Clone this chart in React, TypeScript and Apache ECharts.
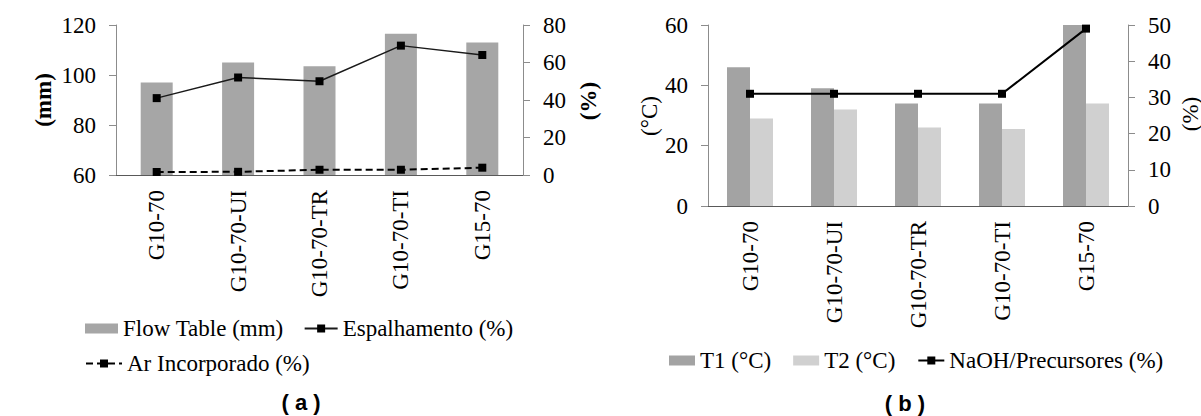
import React, { useEffect, useRef } from "react";
import * as echarts from "echarts";

const categories = ["G10-70", "G10-70-UI", "G10-70-TR", "G10-70-TI", "G15-70"];
const flowTable = [97, 105, 103.5, 116.5, 113];
const espalhamento = [41, 52, 50, 69, 64];
const arIncorporado = [1.6, 1.7, 2.8, 2.8, 3.9];
const t1 = [46, 39, 34, 34, 60];
const t2 = [29, 32, 26, 25.5, 34];
const naoh = [31, 31, 31, 31, 49];

const SERIF = "Liberation Serif";
const SANS = "Liberation Sans";
const FS = 23;

export default function App() {
  const ref = useRef<HTMLDivElement>(null);
  useEffect(() => {
    if (!ref.current) return;
    const chart = echarts.init(ref.current, null, { renderer: "svg" });
    const catAxis = (gridIndex: number) => ({
      type: "category",
      gridIndex,
      data: categories,
      boundaryGap: true,
      axisLine: { show: true, lineStyle: { color: "#595959", width: 1 } },
      axisTick: { show: false },
      axisLabel: { rotate: 90, margin: 15, fontFamily: SERIF, fontSize: FS, color: "#000" },
      splitLine: { show: false },
    });
    const valAxis = (gridIndex: number, position: string, min: number, max: number, interval: number) => ({
      type: "value",
      gridIndex,
      position,
      min,
      max,
      interval,
      axisLine: { show: true, lineStyle: { color: "#8c8c8c", width: 1 } },
      axisTick: { show: true, inside: false, length: 7, lineStyle: { color: "#8c8c8c" } },
      axisLabel: { margin: 20, fontFamily: SERIF, fontSize: FS, color: "#000" },
      splitLine: { show: false },
    });
    const legendText = { fontFamily: SERIF, fontSize: FS, color: "#000" };
    chart.setOption({
      animation: false,
      backgroundColor: "#fff",
      grid: [
        { left: 116, top: 25, width: 407, height: 150 },
        { left: 708, top: 25, width: 420, height: 181 },
      ],
      xAxis: [catAxis(0), catAxis(1)],
      yAxis: [
        valAxis(0, "left", 60, 120, 20),
        valAxis(0, "right", 0, 80, 20),
        valAxis(1, "left", 0, 60, 20),
        valAxis(1, "right", 0, 50, 10),
      ],
      legend: [
        {
          left: 85,
          top: 317,
          padding: 0,
          itemWidth: 33,
          itemHeight: 10,
          itemGap: 20,
          textStyle: legendText,
          data: [{ name: "Flow Table (mm)", icon: "rect" }, "Espalhamento (%)"],
        },
        {
          left: 85,
          top: 352,
          padding: 0,
          itemWidth: 36,
          itemHeight: 10,
          textStyle: legendText,
          data: ["Ar Incorporado (%)"],
        },
        {
          left: 669,
          top: 349,
          padding: 0,
          itemWidth: 26,
          itemHeight: 10,
          itemGap: 22,
          textStyle: legendText,
          data: [
            { name: "T1 (°C)", icon: "rect" },
            { name: "T2 (°C)", icon: "rect" },
            "NaOH/Precursores (%)",
          ],
        },
      ],
      series: [
        {
          name: "Flow Table (mm)",
          type: "bar",
          xAxisIndex: 0,
          yAxisIndex: 0,
          barWidth: 32,
          itemStyle: { color: "#a6a6a6" },
          data: flowTable,
        },
        {
          name: "Espalhamento (%)",
          type: "line",
          xAxisIndex: 0,
          yAxisIndex: 1,
          symbol: "rect",
          symbolSize: 8,
          itemStyle: { color: "#000" },
          lineStyle: { color: "#1a1a1a", width: 1.5 },
          data: espalhamento,
        },
        {
          name: "Ar Incorporado (%)",
          type: "line",
          xAxisIndex: 0,
          yAxisIndex: 1,
          symbol: "rect",
          symbolSize: 8,
          itemStyle: { color: "#000" },
          lineStyle: { color: "#000", width: 2, type: [7, 4] },
          data: arIncorporado,
        },
        {
          name: "T1 (°C)",
          type: "bar",
          xAxisIndex: 1,
          yAxisIndex: 2,
          barWidth: 23,
          barGap: "0%",
          itemStyle: { color: "#a3a3a3" },
          data: t1,
        },
        {
          name: "T2 (°C)",
          type: "bar",
          xAxisIndex: 1,
          yAxisIndex: 2,
          barWidth: 23,
          barGap: "0%",
          itemStyle: { color: "#d0d0d0" },
          data: t2,
        },
        {
          name: "NaOH/Precursores (%)",
          type: "line",
          xAxisIndex: 1,
          yAxisIndex: 3,
          symbol: "rect",
          symbolSize: 8,
          itemStyle: { color: "#000" },
          lineStyle: { color: "#000", width: 2 },
          data: naoh,
        },
      ],
      graphic: [
        {
          type: "text",
          x: 43,
          y: 100,
          rotation: Math.PI / 2,
          style: { text: "(mm)", fontFamily: SERIF, fontSize: FS, fontWeight: "bold", fill: "#000", align: "center", verticalAlign: "middle" },
        },
        {
          type: "text",
          x: 588,
          y: 101,
          rotation: Math.PI / 2,
          style: { text: "(%)", fontFamily: SERIF, fontSize: FS, fontWeight: "bold", fill: "#000", align: "center", verticalAlign: "middle" },
        },
        {
          type: "text",
          x: 649,
          y: 116,
          rotation: Math.PI / 2,
          style: { text: "(°C)", fontFamily: SERIF, fontSize: FS, fill: "#000", align: "center", verticalAlign: "middle" },
        },
        {
          type: "text",
          x: 1190,
          y: 114,
          rotation: Math.PI / 2,
          style: { text: "(%)", fontFamily: SERIF, fontSize: FS, fill: "#000", align: "center", verticalAlign: "middle" },
        },
        {
          type: "text",
          x: 301,
          y: 402,
          style: { text: "( a )", fontFamily: SANS, fontSize: 22, fontWeight: "bold", fill: "#000", align: "center", verticalAlign: "middle" },
        },
        {
          type: "text",
          x: 905,
          y: 403,
          style: { text: "( b )", fontFamily: SANS, fontSize: 22, fontWeight: "bold", fill: "#000", align: "center", verticalAlign: "middle" },
        },
      ],
    });
    return () => chart.dispose();
  }, []);
  return (
    <div
      ref={ref}
      style={{ position: "absolute", left: 0, top: 0, width: 1201, height: 416 }}
    />
  );
}
